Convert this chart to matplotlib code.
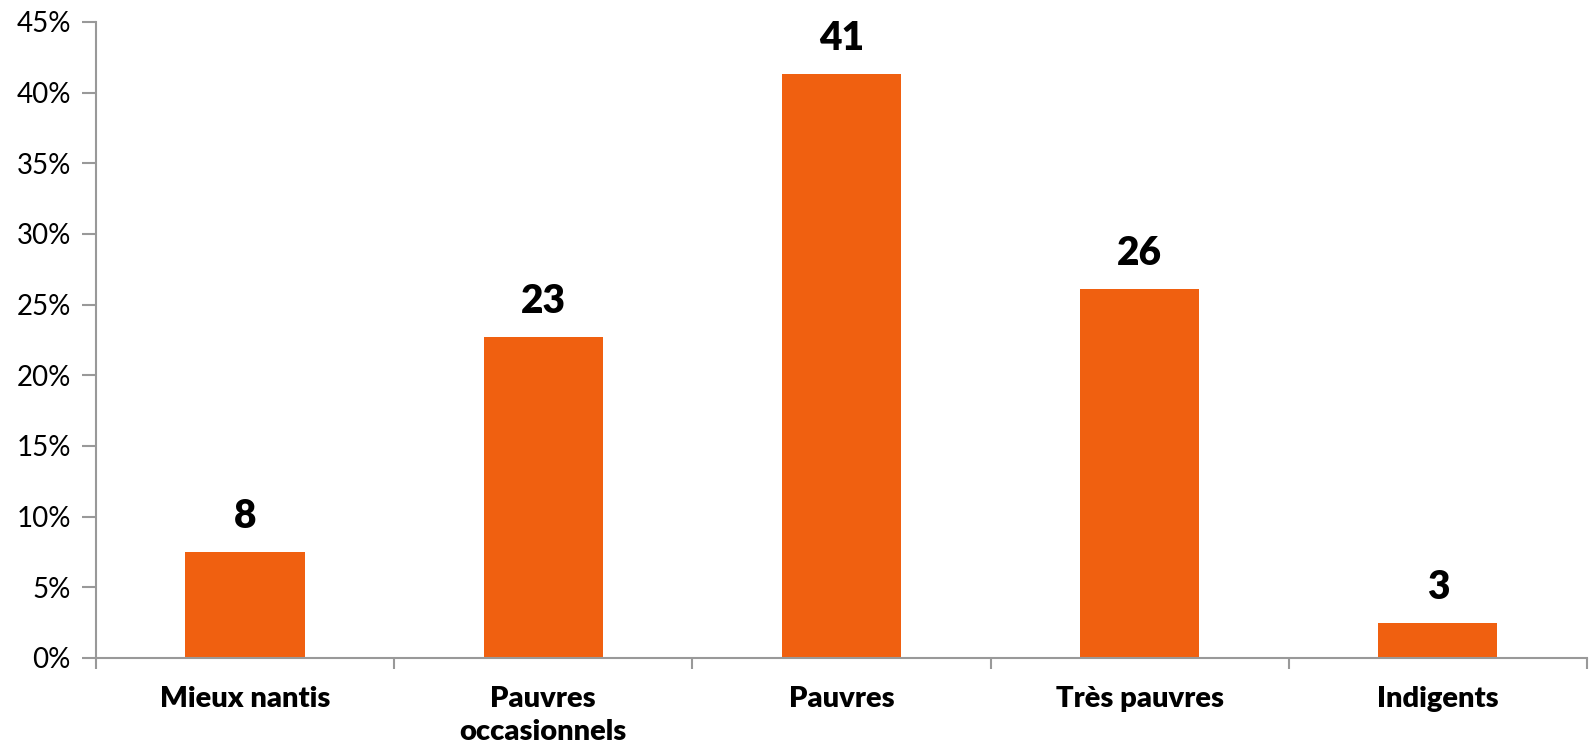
import matplotlib.pyplot as plt
from matplotlib.ticker import FuncFormatter

categories = ["Mieux nantis", "Pauvres\noccasionnels", "Pauvres", "Très pauvres", "Indigents"]
shares = [7.5, 22.7, 41.3, 26.1, 2.5]
labels = ["8", "23", "41", "26", "3"]

plt.rcParams['font.family'] = ['Lato', 'DejaVu Sans']

fig = plt.figure(figsize=(15.89, 7.5), dpi=100)
ax = fig.add_axes([0.0604, 0.1227, 0.9383, 0.848])

x = range(len(categories))
ax.bar(x, shares, width=0.4, color='#F06010', edgecolor='none')

for xi, v, lab in zip(x, shares, labels):
    ax.text(xi, v + 1.2, lab, ha='center', va='bottom', fontsize=28, fontweight='heavy')

ax.set_xlim(-0.5, len(categories) - 0.5)
ax.set_ylim(0, 45)
ax.set_yticks(range(0, 46, 5))
ax.yaxis.set_major_formatter(FuncFormatter(lambda v, _: f"{v:.0f}%"))

# category labels between boundary ticks
ax.set_xticks([i - 0.5 for i in range(len(categories) + 1)])
ax.set_xticklabels([])
ax.set_xticks(list(x), minor=True)
ax.set_xticklabels(categories, minor=True, fontsize=21, fontweight='heavy', linespacing=1.35)
ax.tick_params(axis='x', which='minor', length=0, pad=20)
ax.tick_params(axis='x', which='major', length=8, color='#999999', width=1.5)
ax.tick_params(axis='y', length=10, color='#999999', width=1.5, labelsize=20, pad=8)

for side in ['top', 'right']:
    ax.spines[side].set_visible(False)
for side in ['left', 'bottom']:
    ax.spines[side].set_color('#999999')
    ax.spines[side].set_linewidth(1.5)

fig.savefig("out.png", dpi=100)
